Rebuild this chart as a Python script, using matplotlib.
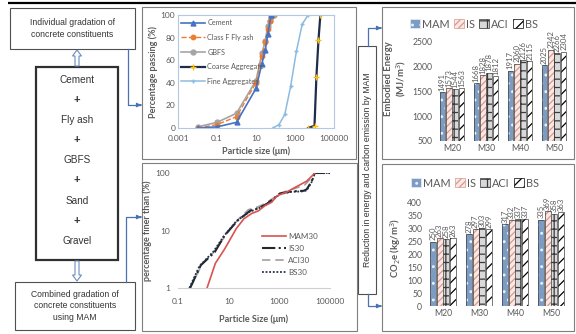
import numpy as np
import matplotlib
matplotlib.use("Agg")
import matplotlib.pyplot as plt
import matplotlib.patches as mpatches
from matplotlib.ticker import FixedLocator, NullLocator, FixedFormatter

W, H = 576, 334
GRAY = "#595959"
CHART_FONT = ["Lato", "DejaVu Sans"]
FLOW_FONT = ["Liberation Sans", "DejaVu Sans"]

# ---- individual gradation (particle size in um, % passing) ----
cement_x = [0.01, 0.1, 1, 10, 20, 30, 40, 60]
cement_y = [0, 1, 5, 35, 57, 69, 83, 100]
flyash_x = [0.01, 0.1, 1, 10, 20, 30, 40, 50, 70]
flyash_y = [0, 3, 10, 40, 64, 76, 88, 95, 100]
gbfs_x = [0.01, 0.1, 1, 10, 20, 30, 40, 50, 60, 80]
gbfs_y = [1, 5, 13, 42, 66, 77, 90, 95, 98, 100]
coarse_x = [4750, 10000, 12500, 16000, 20000]
coarse_y = [0, 2, 45, 78, 100]
fine_x = [75, 150, 300, 600, 1180, 2360, 4750]
fine_y = [0, 3, 12, 37, 68, 92, 100]

# ---- combined gradation (particle size in um, % finer) ----
mam30_x = [1.4, 3, 7, 20, 40, 80, 150, 270, 500, 800, 2000, 4800, 12000, 20000, 25000]
mam30_y = [1, 2.7, 4.8, 10.8, 16, 19.7, 22, 27, 31, 40, 47, 58, 72, 90, 100]
is30_x = [0.3, 0.8, 2.8, 7, 23, 70, 170, 320, 600, 1050, 3000, 9000, 12000, 19000, 25000, 100000]
is30_y = [1, 2.5, 4.2, 8.3, 15, 22, 25, 29, 36, 44, 48, 49, 52, 72, 100, 100]
aci30_x = [0.3, 0.9, 3, 8, 25, 60, 150, 300, 600, 1180, 2400, 4750, 10000, 20000, 25000]
aci30_y = [1, 2.6, 4.5, 8.6, 16, 23, 26, 30, 37, 45, 50, 55, 62, 85, 100]
bs30_x = [0.28, 0.7, 2.5, 6.5, 20, 65, 160, 300, 600, 1050, 3000, 9000, 12000, 19000, 25000, 100000]
bs30_y = [1, 2.4, 4.3, 8, 14.5, 21, 24.5, 28.5, 35, 43, 47, 48, 50, 70, 100, 100]

# ---- embodied energy and CO2e by mix grade ----
grades = ["M20", "M30", "M40", "M50"]
methods = ["MAM", "IS", "ACI", "BS"]
energy_mam = [1491, 1668, 1917, 2025]
energy_is = [1573, 1828, 2060, 2342]
energy_aci = [1544, 1878, 2126, 2266]
energy_bs = [1563, 1812, 2115, 2304]
co2_mam = [250, 278, 317, 335]
co2_is = [263, 297, 332, 369]
co2_aci = [258, 303, 337, 358]
co2_bs = [263, 299, 337, 363]

flow_items = ["Cement", "+", "Fly ash", "+", "GBFS", "+", "Sand", "+", "Gravel"]


def rect(x0, y0, x1, y1):
    return [x0 / W, 1 - y1 / H, (x1 - x0) / W, (y1 - y0) / H]


fig = plt.figure(figsize=(W / 100, H / 100), dpi=100)
bg = fig.add_axes([0, 0, 1, 1], zorder=0)
bg.set_xlim(0, W)
bg.set_ylim(H, 0)
bg.axis("off")

# top rule
bg.plot([8, 576], [3, 3], color="black", lw=1.6, solid_capstyle="butt")

# ---- flow chart on the left ----
bg.add_patch(mpatches.Rectangle((10, 8), 125, 41, fill=False, ec="#505050", lw=0.8))
bg.text(72.5, 28.5, "Individual gradation of\nconcrete constituents", ha="center", va="center",
        fontsize=6.2, color="#333333", family=FLOW_FONT, linespacing=1.35)
bg.add_patch(mpatches.Rectangle((36, 67), 82, 193, fill=False, ec="#303030", lw=1.6))
for k, item in enumerate(flow_items):
    yy = 80 + k * 20.1
    bg.text(77, yy, item, ha="center", va="center",
            fontsize=7.2 if item != "+" else 8, color="#333333", family=FLOW_FONT,
            fontweight="bold" if item == "+" else "normal")
bg.add_patch(mpatches.Rectangle((15, 282), 120, 48, fill=False, ec="#505050", lw=0.8))
bg.text(75, 306, "Combined gradation of\nconcrete constituents\nusing MAM", ha="center", va="center",
        fontsize=6.2, color="#333333", family=FLOW_FONT, linespacing=1.35)

# hollow block arrows
bg.add_patch(mpatches.FancyArrow(77, 66, 0, -16, width=4, head_width=9, head_length=6,
                                 length_includes_head=True, fc="white", ec="#6a8cbf", lw=0.8))
bg.add_patch(mpatches.FancyArrow(77, 261, 0, 20, width=4, head_width=9, head_length=6,
                                 length_includes_head=True, fc="white", ec="#6a8cbf", lw=0.8))

# connector lines
BLUE = "#4a72b0"
bg.plot([128, 128, 140], [49, 105, 105], color=BLUE, lw=0.9)
bg.annotate("", xy=(144, 105), xytext=(138, 105),
            arrowprops=dict(arrowstyle="-|>", color=BLUE, lw=0.9, mutation_scale=6))
bg.plot([126, 126, 140], [282, 217, 217], color=BLUE, lw=0.9)
bg.annotate("", xy=(144, 217), xytext=(138, 217),
            arrowprops=dict(arrowstyle="-|>", color=BLUE, lw=0.9, mutation_scale=6))

# middle vertical box
bg.add_patch(mpatches.Rectangle((358, 46), 18, 248, fill=False, ec="#505050", lw=0.8))
bg.text(367, 170, "Reduction in energy and carbon emission by MAM", rotation=90,
        ha="center", va="center", fontsize=6.2, color="#333333", family=FLOW_FONT)
bg.plot([368, 368, 379], [46, 28, 28], color=BLUE, lw=0.9)
bg.annotate("", xy=(384, 28), xytext=(378, 28),
            arrowprops=dict(arrowstyle="-|>", color=BLUE, lw=0.9, mutation_scale=6))
bg.plot([368, 368, 379], [294, 306, 306], color=BLUE, lw=0.9)
bg.annotate("", xy=(384, 306), xytext=(378, 306),
            arrowprops=dict(arrowstyle="-|>", color=BLUE, lw=0.9, mutation_scale=6))

# panel frames
for (x0, y0, x1, y1) in [(142, 7, 356, 159), (142, 163, 357, 331),
                         (382, 7, 574, 159), (382, 164, 574, 331)]:
    bg.add_patch(mpatches.Rectangle((x0, y0), x1 - x0, y1 - y0, fill=False, ec="#7f7f7f", lw=0.8))


def style_ticks(ax, size=6, pad=2):
    ax.tick_params(length=0, labelsize=size, colors=GRAY, pad=pad)
    for lab in ax.get_xticklabels() + ax.get_yticklabels():
        lab.set_family(CHART_FONT)


# ---- individual gradation chart ----
ax1 = fig.add_axes(rect(178, 15, 334, 128), zorder=1)
ax1.set_xscale("log")
ax1.set_xlim(0.001, 1e5)
ax1.set_ylim(0, 100)
ax1.plot(coarse_x, coarse_y, color="#1f2d4d", lw=1.6, marker="+", ms=4, mec="#ffc000", mew=1.0,
         label="Coarse Aggregate")
ax1.plot(fine_x, fine_y, color="#8dbbe0", lw=1.1, marker="+", ms=3, mec="#8dbbe0",
         label="Fine Aggregates")
ax1.plot(gbfs_x, gbfs_y, color="#a5a5a5", lw=1.2, marker="o", ms=3.5, label="GBFS")
ax1.plot(flyash_x, flyash_y, color="#ed7d31", lw=1.0, ls="--", marker="o", ms=3.2, label="Class F Fly ash")
ax1.plot(cement_x, cement_y, color="#4472c4", lw=1.2, marker="^", ms=3.5, label="Cement")
ax1.xaxis.set_major_locator(FixedLocator([0.001, 0.1, 10, 1000, 100000]))
ax1.xaxis.set_major_formatter(FixedFormatter(["0.001", "0.1", "10", "1000", "100000"]))
ax1.xaxis.set_minor_locator(NullLocator())
ax1.set_yticks(range(0, 101, 20))
for s in ax1.spines.values():
    s.set_color("#b4c7e7")
    s.set_linewidth(0.8)
style_ticks(ax1, 6)
ax1.tick_params(axis="x", pad=5)
ax1.set_xlabel("Particle size (\u03bcm)", fontsize=6.5, fontweight="bold", color=GRAY,
               family=CHART_FONT, labelpad=3)
ax1.set_ylabel("Percentage passing (%)", fontsize=6.5, fontweight="bold", color=GRAY,
               family=CHART_FONT, labelpad=2)
h, l = ax1.get_legend_handles_labels()
order = [4, 3, 2, 0, 1]
leg = ax1.legend([h[i] for i in order], [l[i] for i in order], loc="upper left",
                 bbox_to_anchor=(-0.01, 1.0), frameon=False, handlelength=3.4,
                 handletextpad=0.3, labelspacing=1.05, borderaxespad=0.2,
                 prop={"family": CHART_FONT, "size": 5.2})
for t in leg.get_texts():
    t.set_color(GRAY)

# ---- combined gradation chart ----
ax2 = fig.add_axes(rect(178, 173, 330, 288), zorder=1)
ax2.set_xscale("log")
ax2.set_yscale("log")
ax2.set_xlim(0.1, 1e5)
ax2.set_ylim(1, 100)
ax2.plot(aci30_x, aci30_y, color="#a0a0a0", lw=1.2, ls=(0, (5, 3)), label="ACI30")
ax2.plot(is30_x, is30_y, color="#262626", lw=1.5, ls="-.", label="IS30")
ax2.plot(bs30_x, bs30_y, color="#1f3050", lw=1.3, ls=(0, (1, 1)), label="BS30")
ax2.plot(mam30_x, mam30_y, color="#d9534f", lw=1.2, label="MAM30")
ax2.xaxis.set_major_locator(FixedLocator([0.1, 10, 1000, 100000]))
ax2.xaxis.set_major_formatter(FixedFormatter(["0.1", "10", "1000", "100000"]))
ax2.xaxis.set_minor_locator(NullLocator())
ax2.yaxis.set_major_locator(FixedLocator([1, 10, 100]))
ax2.yaxis.set_major_formatter(FixedFormatter(["1", "10", "100"]))
ax2.yaxis.set_minor_locator(NullLocator())
for side in ["top", "right", "left"]:
    ax2.spines[side].set_visible(False)
ax2.spines["bottom"].set_color("#d0d0d0")
style_ticks(ax2, 6)
ax2.tick_params(axis="x", pad=7)
ax2.tick_params(axis="y", pad=6)
ax2.set_xlabel("Particle Size (\u03bcm)", fontsize=6.5, fontweight="bold", color=GRAY,
               family=CHART_FONT, labelpad=7)
ax2.set_ylabel("percentage finer than (%)", fontsize=6.5, fontweight="bold", color=GRAY,
               family=CHART_FONT, labelpad=2)
h, l = ax2.get_legend_handles_labels()
order = [3, 1, 0, 2]
leg = ax2.legend([h[i] for i in order], [l[i] for i in order], loc="upper left",
                 bbox_to_anchor=(0.53, 0.51), frameon=False, handlelength=3.0,
                 handletextpad=0.3, labelspacing=0.65, borderaxespad=0,
                 prop={"family": CHART_FONT, "size": 5.8})
for t in leg.get_texts():
    t.set_color(GRAY)

# ---- bar charts ----
bar_styles = [
    dict(fc="#7d9cc4", hatch="..", hc="#e8f0fa"),
    dict(fc="#fbe7e3", hatch="/////", hc="#d9998f"),
    dict(fc="#d9d9d9", hatch="++", hc="#3a3a3a"),
    dict(fc="white", hatch="///", hc="#000000"),
]


def bar_panel(ax, series, ylim, yticks, label_gap):
    x = np.arange(len(grades))
    plt.rcParams["hatch.linewidth"] = 0.9
    for i, vals in enumerate(series):
        st = bar_styles[i]
        pos = x + (i - 1.5) * 0.19
        ax.bar(pos, vals, 0.165, color=st["fc"], hatch=st["hatch"], edgecolor=st["hc"], lw=0)
        ax.bar(pos, vals, 0.165, fill=False, edgecolor="#404040", lw=0.5)
        for p, v in zip(pos, vals):
            ax.text(p, v + label_gap, str(v), rotation=90, ha="center", va="bottom",
                    fontsize=5.6, color=GRAY, family=CHART_FONT, clip_on=False)
    ax.set_xlim(-0.5, len(grades) - 0.5)
    ax.set_ylim(*ylim)
    ax.set_yticks(yticks)
    ax.set_xticks(x)
    ax.set_xticklabels(grades)
    for s in ax.spines.values():
        s.set_visible(False)
    style_ticks(ax, 6.2)


def bar_legend(ax, x_center, y_center):
    handles = []
    for st in bar_styles:
        handles.append(mpatches.Patch(facecolor=st["fc"], hatch=st["hatch"], edgecolor=st["hc"]))
    leg = ax.legend(handles, methods, loc="center",
                    bbox_to_anchor=(x_center / W, 1 - y_center / H),
                    bbox_transform=fig.transFigure, ncol=4,
                    frameon=False, handlelength=0.9, handleheight=0.9, handletextpad=0.15,
                    columnspacing=0.45, borderaxespad=0,
                    prop={"family": CHART_FONT, "size": 7.8})
    for t in leg.get_texts():
        t.set_color(GRAY)
    for p in leg.get_patches():
        p.set_linewidth(0.5)


ax3 = fig.add_axes(rect(435, 17, 571, 141), zorder=1)
bar_panel(ax3, [energy_mam, energy_is, energy_aci, energy_bs], (500, 3000),
          [500, 1000, 1500, 2000, 2500], 25)
ax3.set_ylabel("Embodied Energy\n(MJ/m$^3$)", fontsize=6.8, fontweight="bold", color=GRAY,
               family=CHART_FONT, labelpad=3, linespacing=1.1)
bar_legend(ax3, 474, 24)

ax4 = fig.add_axes(rect(425, 190, 569, 306), zorder=1)
bar_panel(ax4, [co2_mam, co2_is, co2_aci, co2_bs], (0, 450),
          list(range(0, 401, 50)), 5)
ax4.set_ylabel("CO$_2$e (kg/m$^3$)", fontsize=6.8, fontweight="bold", color=GRAY,
               family=CHART_FONT, labelpad=3)
bar_legend(ax4, 475, 183)

fig.savefig("out.png", dpi=100)
